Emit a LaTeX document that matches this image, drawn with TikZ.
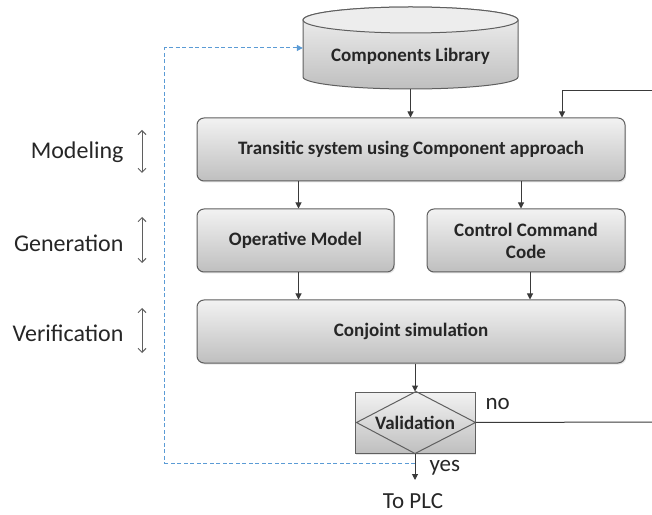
\documentclass[tikz,border=0pt]{standalone}
\usepackage{fontspec}
\setmainfont{Carlito}
\usepackage{tikz}
\usetikzlibrary{positioning, arrows.meta, shadows}

\definecolor{boxtop}{HTML}{F2F2F2}
\definecolor{boxbot}{HTML}{BFBFBF}
\definecolor{boxline}{HTML}{5F5F5F}
\definecolor{wire}{HTML}{3A3A3A}
\definecolor{inktext}{HTML}{262626}
\definecolor{loopblue}{HTML}{5B9BD5}

\tikzset{
  box/.style={draw=boxline, line width=1pt, rounded corners=7pt,
    top color=boxtop, bottom color=boxbot, text=inktext, align=center,
    font=\fontsize{19}{22}\selectfont\bfseries, inner sep=0pt,
    drop shadow={opacity=0.2, shadow xshift=1.2pt, shadow yshift=-1.5pt}},
  flow/.style={draw=wire, line width=1pt, -{Triangle[width=6pt,length=6pt]}},
  feedback/.style={draw=loopblue, line width=1pt, dash pattern=on 4pt off 2.5pt,
    -{Triangle[width=6pt,length=6pt]}},
  phase/.style={anchor=east, text=inktext, font=\fontsize{24}{28}\selectfont},
  span/.style={draw=boxline, line width=1pt, {Straight Barb[length=4pt,width=8pt]}-{Straight Barb[length=4pt,width=8pt]}},
  remark/.style={text=inktext, font=\fontsize{23}{26}\selectfont}
}

\begin{document}
\begin{tikzpicture}[x=1pt, y=1pt]
\useasboundingbox (0,0) rectangle (652,514);

% library drum
\shade[draw=boxline, line width=1pt, top color=boxtop, bottom color=boxbot]
  (303,494) -- (303,437) arc[start angle=180, end angle=360, x radius=107.5, y radius=12]
  -- (518,494) arc[start angle=0, end angle=180, x radius=107.5, y radius=13] -- cycle;
\filldraw[draw=boxline, line width=1pt, fill=boxtop!90!boxbot] (410.5,494) ellipse[x radius=107.5, y radius=13];
\node[minimum width=215pt, minimum height=82pt, inner sep=0pt] (lib) at (410.5,466) {};
\node[text=inktext, font=\fontsize{19}{22}\selectfont\bfseries] (libname) at (410.5,458) {Components Library};

% process boxes
\node[box, minimum width=428pt, minimum height=63pt] (sys) at (411,364.5) {Transitic system using Component approach};
\node[box, minimum width=197pt, minimum height=63pt] (op) at (295.5,273.5) {Operative Model};
\node[box, minimum width=198pt, minimum height=63pt] (ctl) at (526,273.5) {Control Command\\Code};
\node[box, minimum width=428pt, minimum height=63pt] (sim) at (411,182.5) {Conjoint simulation};
\node[box, rounded corners=0pt, minimum width=120pt, minimum height=61pt] (val) at (415,91.5) {Validation};
\draw[boxline, line width=1pt] ([xshift=1pt]val.north) -- (val.east) -- (val.south) -- ([xshift=2pt]val.west) -- cycle;

% phases
\node[phase] (mod) at (127,362) {Modeling};
\node[phase] (gen) at (127,271) {Generation};
\node[phase] (ver) at (127,181) {Verification};
\draw[span] ([xshift=15pt,yshift=22pt]mod.east) -- ([xshift=15pt,yshift=-21pt]mod.east);
\draw[span] ([xshift=15pt,yshift=26pt]gen.east) -- ([xshift=15pt,yshift=-20pt]gen.east);
\draw[span] ([xshift=15pt,yshift=25pt]ver.east) -- ([xshift=15pt,yshift=-20pt]ver.east);

% outputs
\coordinate (back) at (652,423);
\coordinate (noout) at (652,92);
\coordinate (plc) at (415,34);
\coordinate (tap) at (415,51);
\node[remark, anchor=west] (no) at (482,110) {no};
\node[remark, anchor=west] (yes) at (426,46) {yes};
\node[remark, anchor=base] (toplc) at (413,6) {To PLC};

% connectors
\draw[flow] (lib.south) -- (lib.south |- sys.north);
\draw[flow] (back) -| ([xshift=151pt]sys.north);
\draw[flow] ([xshift=3pt]op.north |- sys.south) -- ([xshift=3pt]op.north);
\draw[flow] ([xshift=-5pt]ctl.north |- sys.south) -- ([xshift=-5pt]ctl.north);
\draw[flow] ([xshift=3pt]op.south) -- ([xshift=3pt]op.south |- sim.north);
\draw[flow] ([xshift=4pt]ctl.south) -- ([xshift=4pt]ctl.south |- sim.north);
\draw[flow] (val.north |- sim.south) -- (val.north);
\draw[wire, line width=1pt] (val.east) -- (noout);
\draw[flow] (val.south) -- (plc);
\draw[feedback] (tap) -| ([xshift=-138pt]lib.west) -- (lib.west);
\end{tikzpicture}
\end{document}
